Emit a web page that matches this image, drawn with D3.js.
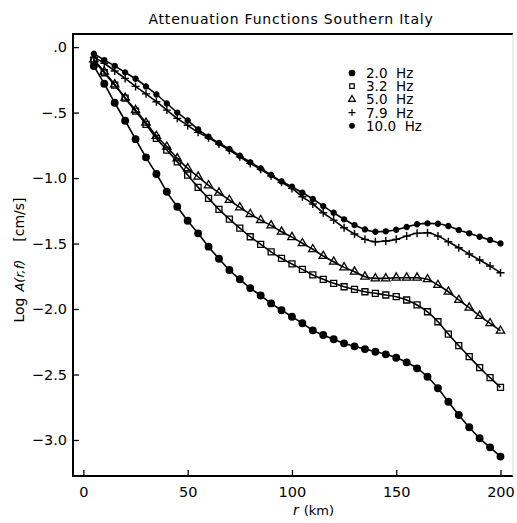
<!DOCTYPE html>
<html>
<head>
<meta charset="utf-8">
<script src="https://cdn.jsdelivr.net/npm/d3@7"></script>
<style>
    body { margin: 0; background: #fff; }
    svg { font-family: "DejaVu Sans", sans-serif; }
    .frame { stroke: #000; stroke-width: 2; fill: none; }
    .lineM { fill: none; stroke: #000; stroke-width: 1.6; }
    .pre { white-space: pre; }
</style>
</head>
<body>
<div id="chart"></div>
<script>
// distances (km), one point every 5 km
var distances = [5, 10, 15, 20, 25, 30, 35, 40, 45, 50, 55, 60, 65, 70, 75, 80, 85, 90, 95, 100,
    105, 110, 115, 120, 125, 130, 135, 140, 145, 150, 155, 160, 165, 170, 175, 180, 185, 190, 195, 200];

var f2_0 = [-0.145, -0.28, -0.425, -0.562, -0.703, -0.842, -0.969, -1.105, -1.219, -1.326,
    -1.422, -1.524, -1.616, -1.702, -1.773, -1.84, -1.897, -1.957, -2.009, -2.059,
    -2.109, -2.163, -2.198, -2.231, -2.262, -2.285, -2.306, -2.326, -2.346, -2.372,
    -2.407, -2.453, -2.517, -2.605, -2.708, -2.809, -2.903, -2.987, -3.056, -3.127];

var f3_2 = [-0.1, -0.196, -0.29, -0.39, -0.489, -0.59, -0.697, -0.786, -0.876, -0.977,
    -1.071, -1.155, -1.239, -1.313, -1.382, -1.448, -1.506, -1.563, -1.614, -1.656,
    -1.697, -1.74, -1.773, -1.804, -1.83, -1.85, -1.868, -1.88, -1.893, -1.906,
    -1.931, -1.969, -2.021, -2.097, -2.191, -2.28, -2.364, -2.448, -2.524, -2.598];

var f5_0 = [-0.094, -0.188, -0.285, -0.387, -0.481, -0.578, -0.679, -0.761, -0.85, -0.926,
    -0.99, -1.056, -1.112, -1.168, -1.224, -1.275, -1.321, -1.362, -1.41, -1.451,
    -1.498, -1.544, -1.595, -1.639, -1.682, -1.715, -1.753, -1.766, -1.766, -1.761,
    -1.761, -1.761, -1.773, -1.817, -1.868, -1.931, -1.99, -2.053, -2.109, -2.166];

var f7_9 = [-0.08, -0.123, -0.182, -0.239, -0.3, -0.357, -0.417, -0.481, -0.544, -0.598,
    -0.651, -0.692, -0.74, -0.787, -0.838, -0.888, -0.933, -0.983, -1.032, -1.079,
    -1.143, -1.198, -1.265, -1.321, -1.379, -1.427, -1.468, -1.486, -1.481, -1.468,
    -1.443, -1.422, -1.418, -1.443, -1.486, -1.532, -1.58, -1.626, -1.672, -1.723];

var f10_0 = [-0.05, -0.099, -0.143, -0.193, -0.242, -0.3, -0.362, -0.43, -0.5, -0.56,
    -0.628, -0.684, -0.732, -0.778, -0.83, -0.88, -0.926, -0.977, -1.025, -1.066,
    -1.112, -1.16, -1.214, -1.265, -1.315, -1.359, -1.392, -1.41, -1.407, -1.395,
    -1.374, -1.353, -1.346, -1.349, -1.366, -1.397, -1.422, -1.448, -1.473, -1.499];

var seriesNames = ["2.0  Hz", "3.2  Hz", "5.0  Hz", "7.9  Hz", "10.0  Hz"];
var seriesValues = [f2_0, f3_2, f5_0, f7_9, f10_0];
var seriesMarkers = ["bigdot", "square", "triangle", "plus", "dot"];

var xTicks = [0, 50, 100, 150, 200];
var yTicks = [0, -0.5, -1.0, -1.5, -2.0, -2.5, -3.0];
var yTickLabels = [".0", "\u2212.5", "\u22121.0", "\u22121.5", "\u22122.0", "\u22122.5", "\u22123.0"];

var svgWidth = 517, svgHeight = 523;
var plot = { left: 73, right: 513, top: 34, bottom: 476 };

var x = d3.scaleLinear().domain([-5, 206]).range([plot.left, plot.right]);
var y = d3.scaleLinear().domain([0.1, -3.275]).range([plot.top, plot.bottom]);

var svg = d3.select("#chart").append("svg")
    .attr("width", svgWidth)
    .attr("height", svgHeight);

// title
svg.append("text")
    .attr("x", 291)
    .attr("y", 24)
    .attr("text-anchor", "middle")
    .style("font-size", "14px")
    .style("letter-spacing", "0.8px")
    .text("Attenuation Functions Southern Italy");

// axes (ticks drawn inward)
var xAxis = d3.axisBottom(x).tickValues(xTicks).tickSizeInner(-6).tickSizeOuter(0).tickPadding(11);
var yAxis = d3.axisLeft(y).tickValues(yTicks).tickSizeInner(-6).tickSizeOuter(0).tickPadding(6)
    .tickFormat(function(d, i) { return yTickLabels[i]; });

var gx = svg.append("g")
    .attr("transform", "translate(0," + plot.bottom + ")")
    .call(xAxis);
var gy = svg.append("g")
    .attr("transform", "translate(" + plot.left + ",0)")
    .call(yAxis);

[gx, gy].forEach(function(g) {
    g.select(".domain").remove();
    g.selectAll(".tick line").attr("stroke", "#000").attr("stroke-width", 1.3);
    g.selectAll(".tick text").style("font-size", "14.5px").style("font-family", "DejaVu Sans, sans-serif").attr("fill", "#000");
});

// frame
svg.append("line").attr("class", "frame")
    .attr("x1", plot.left).attr("x2", plot.right).attr("y1", plot.bottom).attr("y2", plot.bottom);
svg.append("line").attr("class", "frame")
    .attr("x1", plot.left).attr("x2", plot.right).attr("y1", plot.top).attr("y2", plot.top);
svg.append("line").attr("class", "frame")
    .attr("x1", plot.left).attr("x2", plot.left).attr("y1", plot.top - 1).attr("y2", plot.bottom + 1);
svg.append("line")
    .attr("x1", plot.right).attr("x2", plot.right).attr("y1", plot.top).attr("y2", plot.bottom)
    .attr("stroke", "#ddd").attr("stroke-width", 1);

// axis titles
var xLabel = svg.append("text")
    .attr("x", 293)
    .attr("y", 515)
    .style("font-size", "14px");
xLabel.append("tspan").style("font-style", "italic").text("r");
xLabel.append("tspan").attr("dx", 5).style("font-size", "13px").text("(km)");

var yLabel = svg.append("text")
    .attr("transform", "translate(24,260) rotate(-90)")
    .attr("text-anchor", "middle")
    .style("font-size", "14px");
yLabel.append("tspan").text("Log");
yLabel.append("tspan").attr("dx", 6).style("font-style", "italic").style("font-size", "13px").text("A(r,f)");
yLabel.append("tspan").attr("dx", 18).text("[cm/s]");

// markers
function markerPath(kind) {
    if (kind === "bigdot") return d3.symbol().type(d3.symbolCircle).size(34)();
    if (kind === "dot") return d3.symbol().type(d3.symbolCircle).size(20)();
    if (kind === "square") return d3.symbol().type(d3.symbolSquare).size(36)();
    if (kind === "triangle") return d3.symbol().type(d3.symbolTriangle).size(30)();
    return "M-4,0H4M0,-4V4";
}
function markerFill(kind) {
    return (kind === "bigdot" || kind === "dot") ? "#000" : "none";
}

var line = d3.line()
    .x(function(d) { return x(d.r); })
    .y(function(d) { return y(d.v); })
    .curve(d3.curveMonotoneX);

var allSeries = seriesValues.map(function(vals, i) {
    return {
        name: seriesNames[i],
        marker: seriesMarkers[i],
        values: vals.map(function(v, j) { return { r: distances[j], v: v }; })
    };
});

var series = svg.selectAll(".series")
    .data(allSeries)
    .enter().append("g")
    .attr("class", "series");

series.append("path")
    .attr("class", "lineM")
    .attr("d", function(d) { return line(d.values); });

series.each(function(s) {
    d3.select(this).selectAll(".pt")
        .data(s.values)
        .enter().append("path")
        .attr("class", "pt")
        .attr("transform", function(d) { return "translate(" + x(d.r) + "," + y(d.v) + ")"; })
        .attr("d", markerPath(s.marker))
        .attr("fill", markerFill(s.marker))
        .attr("stroke", "#000")
        .attr("stroke-width", s.marker === "plus" ? 1.4 : 1.3);
});

// legend
var legend = svg.append("g");
allSeries.forEach(function(s, i) {
    var ly = 73 + i * 13.2;
    legend.append("path")
        .attr("transform", "translate(352," + ly + ")")
        .attr("d", s.marker === "plus" ? "M-3.5,0H3.5M0,-3.5V3.5" : d3.symbol()
            .type(s.marker === "square" ? d3.symbolSquare : s.marker === "triangle" ? d3.symbolTriangle : d3.symbolCircle)
            .size(s.marker === "bigdot" ? 24 : s.marker === "dot" ? 16 : 20)())
        .attr("fill", markerFill(s.marker))
        .attr("stroke", "#000")
        .attr("stroke-width", 1.2);
    legend.append("text")
        .attr("class", "pre")
        .attr("xml:space", "preserve")
        .attr("x", 366)
        .attr("y", ly + 5)
        .style("font-size", "13.5px")
        .text(s.name);
});
</script>
</body>
</html>
